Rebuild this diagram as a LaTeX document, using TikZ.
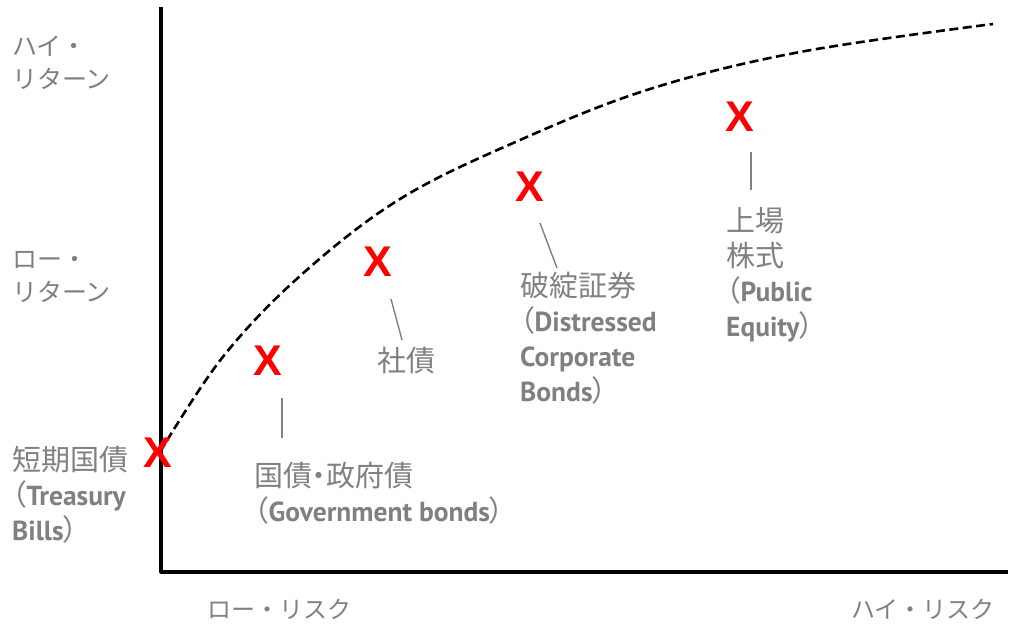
\documentclass[tikz,border=0pt]{standalone}
\usepackage{fontspec}
\setmainfont{Noto Sans CJK JP}
\newfontfamily\jp{Noto Sans CJK JP}
\newfontfamily\jpp{Noto Sans CJK JP}[RawFeature=+palt]
\newfontfamily\ptf{PT Sans}
\newfontfamily\xfont{Liberation Sans}
\newcommand\latw[1]{{\ptf\bfseries\fontsize{27.5}{35}\selectfont #1}}
\definecolor{txtgray}{RGB}{128,128,128}
\definecolor{xred}{RGB}{255,0,0}
\begin{document}
\begin{tikzpicture}[x=1pt,y=-1pt,
  axisline/.style={line width=3.2pt,black,line join=round},
  curveline/.style={line width=2.6pt,black,dash pattern=on 9pt off 4.5pt},
  marker/.style={inner sep=0pt,text=xred,font=\xfont\bfseries\fontsize{43}{43}\selectfont},
  leader/.style={line width=1.4pt,txtgray},
  ylab/.style={anchor=north west,inner sep=0pt,align=left,text=txtgray,font=\jp\fontsize{25}{33}\selectfont},
  lab/.style={anchor=north west,inner sep=0pt,align=left,text=txtgray,font=\jpp\fontsize{29}{35}\selectfont},
  xlab/.style={anchor=north west,inner sep=0pt,text=txtgray,font=\jp\fontsize{24}{24}\selectfont}]
\useasboundingbox (0,0) rectangle (1010,632);
% axes
\coordinate (ytop) at (161,7);
\coordinate (orig) at (161,572);
\coordinate (xend) at (1008,572);
\draw[axisline] (ytop) -- (orig) -- (xend);
% curve
\draw[curveline] plot[smooth,tension=0.6] coordinates {(160,452) (222,358) (300,276) (400,199) (520,140) (650,89) (800,52) (993,24)};
% markers
\node[marker] (mt) at (158,453) {X};
\node[marker] (mg) at (268,361) {X};
\node[marker] (mc) at (378,262) {X};
\node[marker] (md) at (530,187) {X};
\node[marker] (me) at (740,117) {X};
% y-axis labels
\node[ylab] (hr) at (12,36) {ハイ・\\リターン};
\node[ylab] (lr) at (12,251) {ロー・\\リターン};
% x-axis labels
\node[xlab] (lx) at (207,599) {ロー・リスク};
\node[xlab] (hx) at (851,599) {ハイ・リスク};
% item labels
\node[lab] (lt) at (12,446) {短期国債\\（\latw{Treasury}\\\latw{Bills}）};
\node[lab] (lg) at (254,462) {国債・政府債\\（\latw{Government bonds}）};
\node[lab] (lc) at (377,347) {社債};
\node[lab] (ld) at (520,272) {破綻証券\\（\latw{Distressed}\\\latw{Corporate}\\\latw{Bonds}）};
\node[lab] (le) at (726,207) {上場\\株式\\（\latw{Public}\\\latw{Equity}）};
% leaders
\coordinate (g1) at (282,398); \coordinate (g2) at (282,438);
\coordinate (c1) at (391,299); \coordinate (c2) at (402,340);
\coordinate (d1) at (540,223); \coordinate (d2) at (557,268);
\coordinate (e1) at (751,152); \coordinate (e2) at (751,190);
\draw[leader] (g1) -- (g2);
\draw[leader] (c1) -- (c2);
\draw[leader] (d1) -- (d2);
\draw[leader] (e1) -- (e2);
\end{tikzpicture}
\end{document}
